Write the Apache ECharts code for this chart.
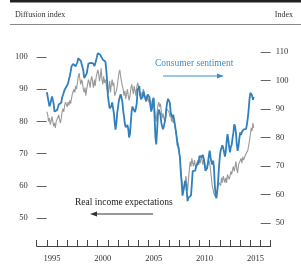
<!DOCTYPE html>
<html>
<head>
<meta charset="utf-8">
<script src="https://cdn.jsdelivr.net/npm/echarts@6/dist/echarts.min.js"></script>
<style>
  html, body { margin: 0; padding: 0; background: #fff; }
  #chart { width: 301px; height: 266px; }
</style>
</head>
<body>
<div id="chart"></div>
<script>
// yearly categories for the tick marks (labels centred in each year)
var years = ['1994', '1995', '1996', '1997', '1998', '1999', '2000', '2001', '2002', '2003', '2004', '2005',
  '2006', '2007', '2008', '2009', '2010', '2011', '2012', '2013', '2014', '2015', '2016']
var startYear = 1995 // monthly data starts January 1995

var leftTicks = [50, 60, 70, 80, 90, 100]
var rightTicks = [50, 60, 70, 80, 90, 100, 110]

// Consumer sentiment, index (right axis), monthly
var sentiment = [
  95.9, 94.3, 92.6, 90.9, 91.7, 92.3, 94.4, 93.2, 91.8, 89.1, 89.8, 89.5,
  89.6, 90.5, 91.6, 91.9, 91.5, 92.2, 94.1, 94.9, 95.5, 96.8, 97.5, 97.8,
  98.0, 99.0, 100.4, 101.5, 103.0, 104.9, 105.3, 105.8, 105.3, 106.3, 105.0, 105.3,
  106.4, 107.8, 108.5, 107.2, 106.9, 105.8, 105.1, 103.5, 100.9, 100.3, 100.2, 102.4,
  104.2, 105.9, 106.1, 105.7, 106.2, 106.7, 105.9, 105.9, 105.0, 105.9, 105.3, 108.2,
  109.6, 110.1, 109.2, 109.0, 108.8, 108.5, 107.3, 107.5, 106.6, 106.7, 103.9, 100.2,
  94.6, 92.3, 90.2, 90.6, 91.0, 92.3, 92.2, 88.6, 85.3, 82.8, 85.1, 88.6,
  90.8, 93.1, 93.1, 95.2, 94.1, 92.5, 89.4, 87.3, 84.8, 83.6, 83.8, 84.4,
  83.0, 80.0, 81.2, 85.2, 89.3, 90.9, 90.0, 89.3, 88.9, 90.3, 92.0, 96.7,
  96.9, 98.0, 94.8, 93.4, 93.3, 94.2, 96.1, 95.6, 93.9, 92.9, 93.9, 95.1,
  95.6, 94.1, 91.5, 89.1, 90.2, 93.1, 93.9, 87.5, 80.1, 77.6, 82.4, 88.1,
  89.8, 88.9, 87.7, 85.1, 83.8, 82.9, 83.9, 84.0, 87.0, 90.4, 92.5, 93.6,
  93.3, 92.2, 88.9, 87.9, 86.9, 88.0, 86.4, 85.7, 82.6, 80.1, 77.5, 76.7,
  74.9, 72.9, 67.6, 64.0, 59.6, 59.1, 60.2, 64.8, 63.6, 61.1, 57.7, 58.9,
  59.2, 58.3, 59.6, 63.7, 68.2, 68.5, 67.5, 68.4, 69.9, 70.5, 70.2, 71.4,
  73.5, 73.9, 73.1, 73.1, 73.9, 72.5, 70.9, 68.3, 68.3, 69.2, 71.3, 73.4,
  75.4, 73.1, 71.6, 70.5, 71.9, 69.8, 63.7, 59.7, 58.7, 61.3, 64.8, 69.5,
  73.4, 75.5, 76.0, 77.3, 76.3, 74.9, 73.3, 75.0, 78.4, 81.2, 79.4, 76.5,
  74.8, 76.7, 77.5, 79.8, 81.7, 84.6, 83.8, 81.6, 77.6, 75.3, 76.9, 79.6,
  81.8, 80.9, 81.9, 82.0, 82.8, 82.1, 82.3, 83.0, 84.7, 86.8, 89.8, 93.5,
  95.7, 95.5, 94.8, 93.2, 94.2
]

// Real income expectations, diffusion index (left axis), monthly
var incomeExp = [
  83, 82, 80, 81, 79, 80, 81.5, 80, 78.5, 79.5, 78, 80,
  79.5, 80.5, 82, 80.5, 79.5, 81, 83, 84, 83, 85, 86, 85.5,
  84.5, 86, 85, 86.5, 85.5, 87, 88.5, 88, 90, 89, 91, 90,
  92, 94, 95, 93, 91.5, 93, 92, 90, 89, 90.5, 88, 90,
  91.5, 93, 92, 90.5, 93, 94, 92, 90.5, 93, 91, 93.5, 94,
  96, 95, 92.5, 94, 96.5, 93, 91.5, 94, 92, 93, 91.5, 90,
  88.5, 90, 92.5, 89, 91.5, 93, 91, 92, 88, 87.5, 89.5, 91,
  93, 95, 96, 94, 92.5, 91, 90, 88, 89.5, 87, 88.5, 90,
  88, 86.5, 88, 90, 91.5, 90, 88.5, 91, 89.5, 88, 90.5, 92,
  91, 89.5, 88, 89, 87.5, 89, 90, 88.5, 87, 86, 88, 87,
  86, 87.5, 85, 84, 86, 87, 85.5, 84, 81.5, 80, 83, 85,
  86, 84.5, 85.5, 83, 81, 82.5, 81, 80, 82, 84, 83.5, 84,
  83, 81.5, 82.5, 80, 81, 79.5, 80.5, 78.5, 77, 75.5, 74, 73,
  71, 68, 65, 62, 60, 58, 59.5, 61, 63, 60.5, 58.5, 62,
  65, 67.5, 66, 68.5, 67, 66, 68, 66.5, 65.5, 67, 68, 66.5,
  68, 67, 69.5, 68, 66.5, 68.5, 67, 65.5, 66, 65, 66.5, 68,
  67, 65, 62.5, 60, 59, 57.5, 58, 56.5, 57, 58.5, 60, 61,
  61.5, 60, 62.5, 61, 63, 62, 61, 62.5, 61, 63.5, 64, 62,
  63, 64.5, 63.5, 65, 66, 64.5, 66, 67.5, 65, 64, 66.5, 67,
  66, 68.5, 67, 69, 68, 67.5, 69.5, 70, 69, 71, 72.5, 74,
  76, 78, 77, 79.5, 78
]

var serif = '"Liberation Serif", "DejaVu Serif", serif'
var blue = '#2f80bd'

function monthly(vals) {
  return vals.map(function (v, i) { return [startYear + i / 12, v] })
}

var chart = echarts.init(document.getElementById('chart'))

chart.setOption({
  animation: false,
  grid: { left: 36.7, right: 30.3, top: 40, bottom: 20 },
  xAxis: [
    {
      type: 'category',
      data: years,
      boundaryGap: true,
      axisLine: { lineStyle: { color: '#444', width: 1 } },
      axisTick: { show: true, alignWithLabel: false, inside: true, length: 6, interval: 0, lineStyle: { color: '#444', width: 1 } },
      axisLabel: {
        interval: function (i, v) { return +v % 5 === 0 },
        margin: 8, fontFamily: serif, fontSize: 8.5, color: '#333'
      },
      splitLine: { show: false }
    },
    { type: 'value', min: 1994, max: 2017, show: false }
  ],
  yAxis: [
    {
      type: 'value', position: 'left', min: 41.3, max: 105.28,
      axisLine: { show: false },
      splitLine: { show: false },
      axisTick: { show: true, inside: true, length: 10, customValues: leftTicks, lineStyle: { color: '#666' } },
      axisLabel: { customValues: leftTicks, margin: 9, fontFamily: serif, fontSize: 8.5, color: '#333' }
    },
    {
      type: 'value', position: 'right', min: 41.93, max: 114.21,
      axisLine: { show: false },
      splitLine: { show: false },
      axisTick: { show: true, inside: true, length: 10, customValues: rightTicks, lineStyle: { color: '#666' } },
      axisLabel: { customValues: rightTicks, margin: 5, fontFamily: serif, fontSize: 8.5, color: '#333' }
    }
  ],
  series: [
    {
      name: 'Real income expectations',
      type: 'line', xAxisIndex: 1, yAxisIndex: 0,
      data: monthly(incomeExp),
      showSymbol: false,
      lineStyle: { color: '#999', width: 1.1 }
    },
    {
      name: 'Consumer sentiment',
      type: 'line', xAxisIndex: 1, yAxisIndex: 1,
      data: monthly(sentiment),
      showSymbol: false,
      lineStyle: { color: blue, width: 1.8 }
    }
  ],
  graphic: [
    { type: 'rect', shape: { x: 10, y: 0, width: 291, height: 2.5 }, style: { fill: '#222' } },
    { type: 'line', shape: { x1: 10, y1: 24.5, x2: 301, y2: 24.5 }, style: { stroke: '#888', lineWidth: 1 } },
    { type: 'text', x: 15, y: 15, style: { text: 'Diffusion index', font: '8px ' + serif, fill: '#333', verticalAlign: 'middle' } },
    { type: 'text', x: 293, y: 15, style: { text: 'Index', font: '8px ' + serif, fill: '#333', align: 'right', verticalAlign: 'middle' } },
    // consumer sentiment label + arrow pointing right
    { type: 'text', x: 155, y: 63, style: { text: 'Consumer sentiment', font: '9.5px ' + serif, fill: '#3b8fc7', verticalAlign: 'middle' } },
    { type: 'line', shape: { x1: 163, y1: 76, x2: 219, y2: 76 }, style: { stroke: '#3b8fc7', lineWidth: 1 } },
    { type: 'polygon', shape: { points: [[224, 76], [217, 73.5], [217, 78.5]] }, style: { fill: '#3b8fc7' } },
    // real income expectations label + arrow pointing left
    { type: 'text', x: 75, y: 202, style: { text: 'Real income expectations', font: '9.5px ' + serif, fill: '#222', verticalAlign: 'middle' } },
    { type: 'line', shape: { x1: 153, y1: 214, x2: 96, y2: 214 }, style: { stroke: '#333', lineWidth: 1 } },
    { type: 'polygon', shape: { points: [[90, 214], [97, 211.5], [97, 216.5]] }, style: { fill: '#333' } }
  ]
})
</script>
</body>
</html>
